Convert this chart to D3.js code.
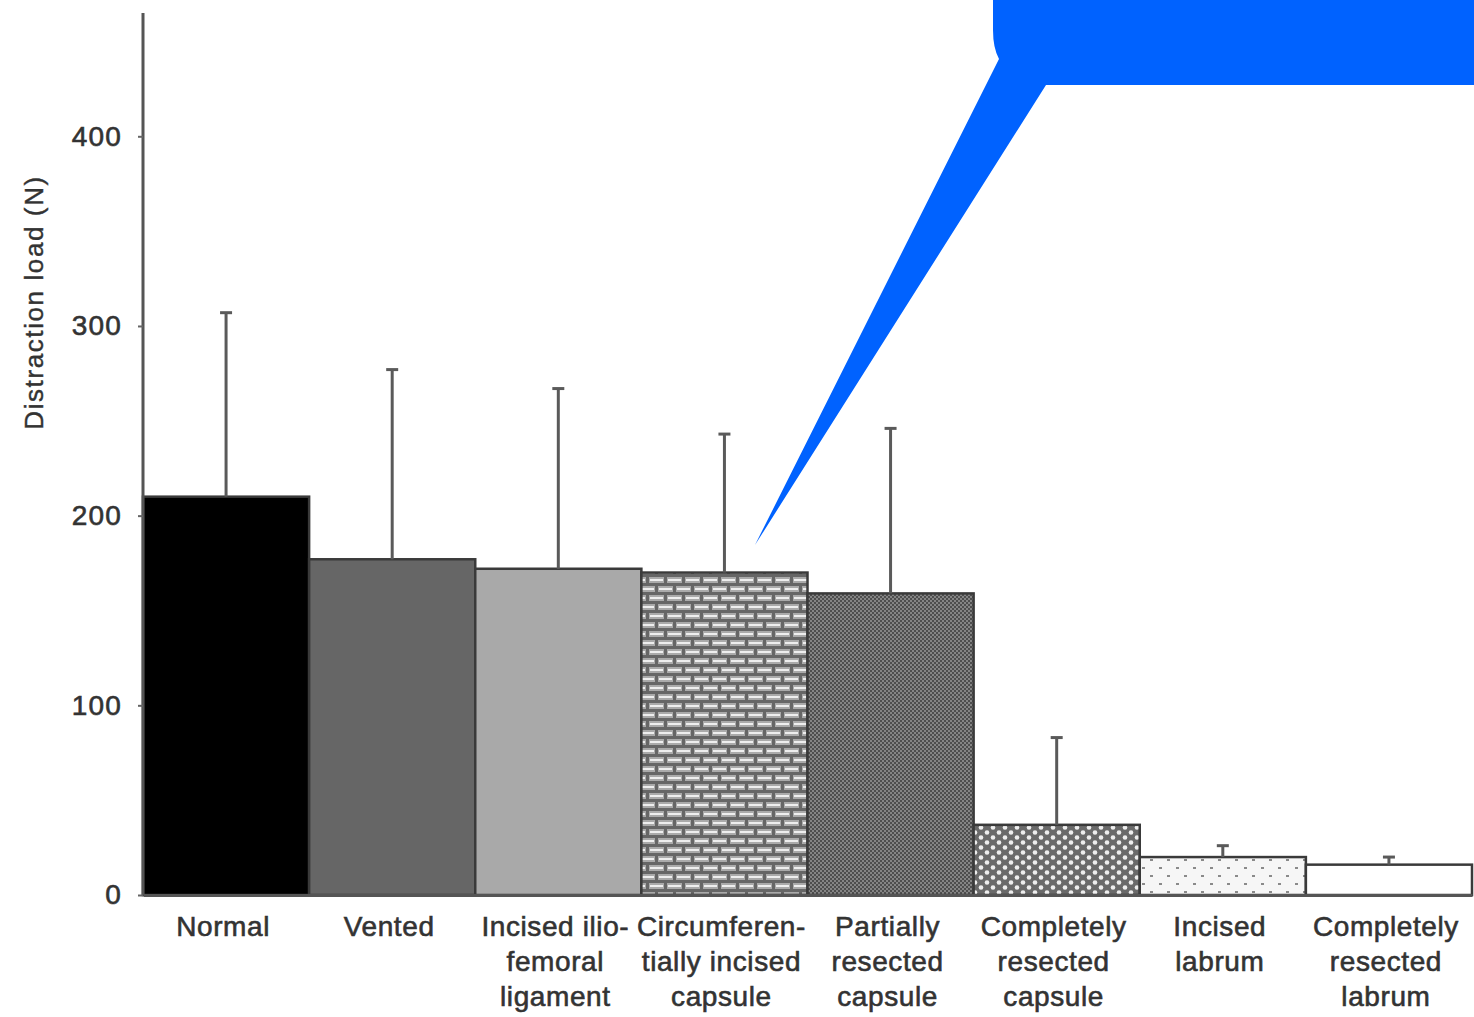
<!DOCTYPE html>
<html>
<head>
<meta charset="utf-8">
<script src="https://cdn.jsdelivr.net/npm/d3@7"></script>
<style>
  html, body { margin: 0; padding: 0; background: #fff; }
  svg { display: block; }
  text { font-family: "Liberation Sans", Arial, sans-serif; }
</style>
</head>
<body>
<div id="chart"></div>
<script>
// Distraction load per capsule/labrum condition (mean + SD)
const categories = [
  "Normal", "Vented", "Incised ilio-femoral ligament",
  "Circumferentially incised capsule", "Partially resected capsule",
  "Completely resected capsule", "Incised labrum", "Completely resected labrum"
];
const labelLines = [
  ["Normal"],
  ["Vented"],
  ["Incised ilio-", "femoral", "ligament"],
  ["Circumferen-", "tially incised", "capsule"],
  ["Partially", "resected", "capsule"],
  ["Completely", "resected", "capsule"],
  ["Incised", "labrum"],
  ["Completely", "resected", "labrum"]
];
const meanLoad = [210, 177, 172, 170, 159, 37, 20, 16];
const sdLoad   = [97, 100, 95, 73, 87, 46, 6, 4];
const yTicks = [0, 100, 200, 300, 400];
const yTitle = "Distraction load (N)";

const W = 1474, H = 1017;
const margin = { top: 13, right: 2, bottom: 122, left: 143 };

const svg = d3.select("#chart").append("svg")
  .attr("width", W).attr("height", H);

// ---- fill patterns for the bars ----
const defs = svg.append("defs");

// brick pattern
const brick = defs.append("pattern").attr("id", "brick")
  .attr("patternUnits", "userSpaceOnUse").attr("width", 18).attr("height", 18);
brick.append("rect").attr("width", 18).attr("height", 18).attr("fill", "#666");
[[1, 1], [10, 10], [-8, 10]].forEach(([x, y]) => {
  brick.append("rect").attr("x", x).attr("y", y).attr("width", 15).attr("height", 6).attr("fill", "#aaa");
  brick.append("rect").attr("x", x + 1).attr("y", y + 2).attr("width", 13).attr("height", 2).attr("fill", "#eee");
});

// fine diagonal checker
const check = defs.append("pattern").attr("id", "check")
  .attr("patternUnits", "userSpaceOnUse").attr("width", 4).attr("height", 4);
check.append("rect").attr("width", 4).attr("height", 4).attr("fill", "#858585");
check.append("rect").attr("width", 2).attr("height", 2).attr("fill", "#4e4e4e");
check.append("rect").attr("x", 2).attr("y", 2).attr("width", 2).attr("height", 2).attr("fill", "#4e4e4e");

// white dot lattice on gray
const lattice = defs.append("pattern").attr("id", "lattice")
  .attr("patternUnits", "userSpaceOnUse").attr("width", 12).attr("height", 10);
lattice.append("rect").attr("width", 12).attr("height", 10).attr("fill", "#6a6a6a");
lattice.append("circle").attr("cx", 3).attr("cy", 2.5).attr("r", 2.3).attr("fill", "#eee");
lattice.append("circle").attr("cx", 9).attr("cy", 7.5).attr("r", 2.3).attr("fill", "#eee");

// sparse dots on white
const dots = defs.append("pattern").attr("id", "dots")
  .attr("patternUnits", "userSpaceOnUse").attr("width", 17).attr("height", 16);
dots.append("rect").attr("width", 17).attr("height", 16).attr("fill", "#f6f6f6");
dots.append("rect").attr("x", 3).attr("y", 3).attr("width", 3).attr("height", 2).attr("fill", "#8a8a8a");
dots.append("rect").attr("x", 11).attr("y", 11).attr("width", 3).attr("height", 2).attr("fill", "#8a8a8a");

const fills = ["#000000", "#666666", "#a9a9a9", "url(#brick)", "url(#check)",
               "url(#lattice)", "url(#dots)", "#ffffff"];

// ---- scales ----
const x = d3.scaleBand().domain(categories)
  .range([margin.left, W - margin.right]).padding(0);
const y = d3.scaleLinear().domain([0, 465])
  .range([H - margin.bottom, margin.top]);

// ---- bars ----
svg.append("g").selectAll("rect").data(categories).join("rect")
  .attr("x", d => x(d))
  .attr("y", (d, i) => y(meanLoad[i]))
  .attr("width", x.bandwidth())
  .attr("height", (d, i) => y(0) - y(meanLoad[i]))
  .attr("fill", (d, i) => fills[i])
  .attr("stroke", "#3a3a3a").attr("stroke-width", 2.5);

// ---- error bars (upper SD only) ----
const err = svg.append("g").attr("stroke", "#5a5a5a");
categories.forEach((c, i) => {
  const cx = x(c) + x.bandwidth() / 2;
  err.append("line")
    .attr("x1", cx).attr("x2", cx)
    .attr("y1", y(meanLoad[i])).attr("y2", y(meanLoad[i] + sdLoad[i]))
    .attr("stroke-width", 3);
  err.append("line")
    .attr("x1", cx - 6).attr("x2", cx + 6)
    .attr("y1", y(meanLoad[i] + sdLoad[i])).attr("y2", y(meanLoad[i] + sdLoad[i]))
    .attr("stroke-width", 3);
});

// ---- axes ----
const yAxis = svg.append("g")
  .attr("transform", `translate(${margin.left},0)`)
  .call(d3.axisLeft(y).tickValues(yTicks).tickSize(5).tickPadding(16));
yAxis.select(".domain").attr("d", `M0,${y(0)}V${margin.top}`)
  .attr("stroke", "#555").attr("stroke-width", 3);
yAxis.selectAll(".tick line").attr("stroke", "#666").attr("stroke-width", 2);
yAxis.selectAll(".tick text")
  .attr("font-size", 28).attr("fill", "#333").attr("letter-spacing", 1.2)
  .attr("stroke", "#333").attr("stroke-width", 0.6);

const xAxis = svg.append("g")
  .attr("transform", `translate(0,${y(0)})`)
  .call(d3.axisBottom(x).tickSize(0).tickFormat(""));
xAxis.select(".domain").attr("stroke", "#555").attr("stroke-width", 3);

// multi-line category labels
const lab = svg.append("g").attr("font-size", 28).attr("fill", "#333")
  .attr("stroke", "#333").attr("stroke-width", 0.6)
  .attr("letter-spacing", 0.6)
  .attr("text-anchor", "middle");
categories.forEach((c, i) => {
  const cx = x(c) + x.bandwidth() / 2 - 3;
  const t = lab.append("text").attr("x", cx).attr("y", y(0) + 41);
  labelLines[i].forEach((line, k) => {
    t.append("tspan")
      .attr("x", cx)
      .attr("dy", k === 0 ? 0 : 35)
      .text(line);
  });
});

// axis title
svg.append("text")
  .attr("transform", `translate(43,${(175 + 430) / 2}) rotate(-90)`)
  .attr("text-anchor", "middle")
  .attr("font-size", 26).attr("fill", "#333")
  .attr("stroke", "#333").attr("stroke-width", 0.4)
  .attr("letter-spacing", 1.6)
  .text(yTitle);

// ---- blue callout box with pointer ----
svg.append("path")
  .attr("d", "M1474,0 L1474,85 L1046,85 L755,545 L999,59 Q993,48 993,30 L993,0 Z")
  .attr("fill", "#0062ff");
</script>
</body>
</html>
